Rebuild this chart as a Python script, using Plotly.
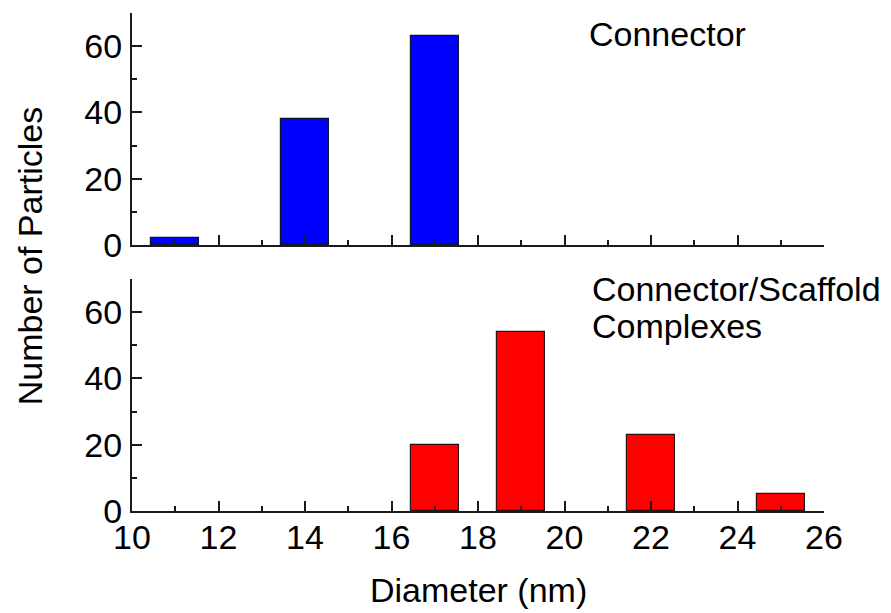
import plotly.graph_objects as go
from plotly.subplots import make_subplots

# Particle size histograms (bin centres in nm, particle counts)
connector_diam = [11, 14, 17]
connector_count = [2, 38, 63]

complex_diam = [17, 19, 22, 25]
complex_count = [20, 54, 23, 5]

x_ticks = [10, 12, 14, 16, 18, 20, 22, 24, 26]
y_ticks = [0, 20, 40, 60]

FONT = "Arial, Liberation Sans, sans-serif"
FS = 34
BAR_W = 1.1

fig = make_subplots(rows=2, cols=1, shared_xaxes=False, vertical_spacing=0.068)

fig.add_trace(go.Bar(x=connector_diam, y=connector_count, width=BAR_W,
                     marker=dict(color="#0000FF", line=dict(color="#101030", width=1.2)),
                     showlegend=False), row=1, col=1)
fig.add_trace(go.Bar(x=complex_diam, y=complex_count, width=BAR_W,
                     marker=dict(color="#FF0000", line=dict(color="#301010", width=1.2)),
                     showlegend=False), row=2, col=1)

axis_common = dict(showline=True, linecolor="#1a1a1a", linewidth=2, mirror=False,
                   showgrid=False, zeroline=False, ticks="inside", tickwidth=2,
                   tickcolor="#1a1a1a", ticklen=10,
                   tickfont=dict(family=FONT, size=FS, color="black"))

for r in (1, 2):
    fig.update_xaxes(range=[10, 26], tickvals=x_ticks, showticklabels=(r == 2),
                     minor=dict(ticks="inside", ticklen=5, dtick=1, tick0=10,
                                tickwidth=2, tickcolor="#1a1a1a"),
                     ticklabelstandoff=-5, **axis_common, row=r, col=1)
    fig.update_yaxes(range=[0, 70], tickvals=y_ticks,
                     minor=dict(ticks="inside", ticklen=5, dtick=10, tick0=0,
                                tickwidth=2, tickcolor="#1a1a1a"),
                     ticklabelstandoff=1, **axis_common, row=r, col=1)

fig.update_layout(
    width=891, height=613,
    margin=dict(l=132, r=67, t=13, b=102),
    paper_bgcolor="white", plot_bgcolor="white",
    font=dict(family=FONT, size=FS, color="black"),
    bargap=0,
)

# Panel labels and axis titles
ann = dict(xref="paper", yref="paper", showarrow=False,
           font=dict(family=FONT, size=FS, color="black"))
fig.add_annotation(text="Connector", x=0.658, y=0.957, xanchor="left", yanchor="middle", **ann)
fig.add_annotation(text="Connector/Scaffold", x=0.662, y=0.446, xanchor="left", yanchor="middle", **ann)
fig.add_annotation(text="Complexes", x=0.662, y=0.372, xanchor="left", yanchor="middle", **ann)
fig.add_annotation(text="Number of Particles", x=-0.147, y=0.512, textangle=-90,
                   xanchor="center", yanchor="middle", **ann)
fig.add_annotation(text="Diameter (nm)", x=0.5, y=-0.159, xanchor="center", yanchor="middle", **ann)

fig.write_html("out.html")
